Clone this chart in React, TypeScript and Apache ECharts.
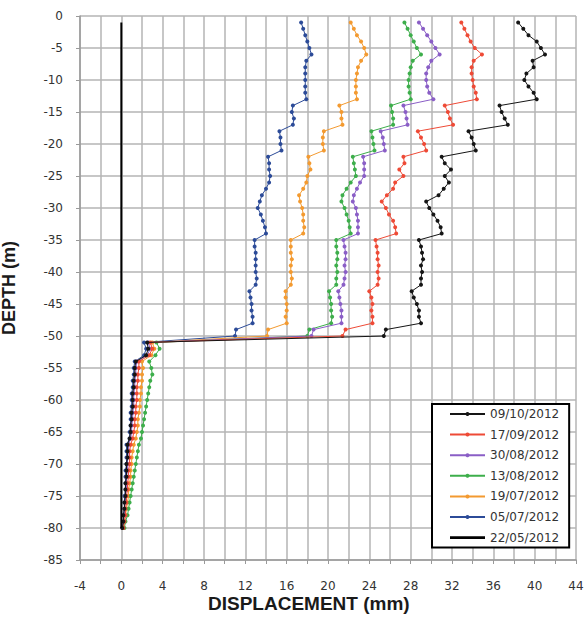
import React, { useEffect, useRef } from "react";
import * as echarts from "echarts";

const depths = [
  -1, -2, -3, -4, -5, -6, -7, -8, -9, -10,
  -11, -12, -13, -14, -15, -16, -17, -18, -19, -20,
  -21, -22, -23, -24, -25, -26, -27, -28, -29, -30,
  -31, -32, -33, -34, -35, -36, -37, -38, -39, -40,
  -41, -42, -43, -44, -45, -46, -47, -48, -49, -50,
  -51, -52, -53, -54, -55, -56, -57, -58, -59, -60,
  -61, -62, -63, -64, -65, -66, -67, -68, -69, -70,
  -71, -72, -73, -74, -75, -76, -77, -78, -79, -80,
];

const s091012 = [
  38.4, 38.9, 39.4, 40.2, 40.6, 41.0, 39.8, 39.9, 39.2, 39.0,
  39.4, 39.9, 40.2, 36.6, 36.8, 37.1, 37.4, 33.6, 33.9, 34.1,
  34.3, 31.0, 31.3, 31.9, 31.3, 31.7, 31.2, 30.7, 29.5, 29.8,
  30.2, 30.6, 30.9, 31.0, 28.8, 29.0, 29.1, 29.2, 29.0, 29.1,
  29.0, 29.0, 28.1, 28.3, 28.6, 28.8, 28.8, 29.0, 25.6, 25.4,
  2.5, 2.6, 2.4, 1.4, 1.3, 1.3, 1.2, 1.2, 1.1, 1.1,
  1.1, 1.0, 1.0, 0.9, 0.9, 0.8, 0.6, 0.6, 0.6, 0.5,
  0.5, 0.5, 0.4, 0.4, 0.4, 0.3, 0.3, 0.2, 0.2, 0.1,
];

const s170912 = [
  32.9, 33.2, 33.5, 33.8, 34.2, 34.9, 34.1, 33.9, 33.9, 34.0,
  34.1, 34.3, 34.4, 31.3, 31.6, 31.8, 32.1, 28.7, 29.0, 29.3,
  29.5, 27.3, 27.4, 26.9, 27.3, 26.5, 26.3, 25.7, 25.2, 25.6,
  25.9, 26.3, 26.5, 26.6, 24.6, 24.7, 24.8, 24.8, 24.9, 24.8,
  24.9, 24.8, 24.0, 24.2, 24.3, 24.2, 24.3, 24.3, 21.7, 21.4,
  2.8, 3.0, 2.7, 1.7, 1.7, 1.6, 1.6, 1.5, 1.5, 1.5,
  1.4, 1.4, 1.3, 1.3, 1.2, 1.1, 0.9, 0.8, 0.8, 0.8,
  0.7, 0.7, 0.6, 0.6, 0.5, 0.5, 0.4, 0.4, 0.3, 0.2,
];

const s300812 = [
  28.8, 29.2, 29.6, 30.0, 30.4, 30.8, 30.0, 29.7, 29.5, 29.5,
  29.6, 29.8, 30.2, 27.3, 27.5, 27.6, 27.7, 25.1, 25.3, 25.4,
  25.5, 23.4, 23.5, 23.5, 23.5, 23.1, 22.8, 22.5, 22.4, 22.7,
  22.8, 22.9, 22.9, 22.9, 21.5, 21.6, 21.7, 21.7, 21.6, 21.7,
  21.6, 21.5, 21.0, 21.1, 21.2, 21.3, 21.3, 21.3, 18.6, 18.4,
  2.6, 2.8, 2.5, 1.5, 1.4, 1.4, 1.3, 1.3, 1.2, 1.2,
  1.2, 1.1, 1.1, 1.0, 1.0, 0.9, 0.7, 0.7, 0.6, 0.6,
  0.6, 0.5, 0.5, 0.5, 0.4, 0.4, 0.3, 0.3, 0.2, 0.1,
];

const s130812 = [
  27.4, 27.7, 28.0, 28.3, 28.6, 29.0, 28.2, 28.0, 27.9, 27.8,
  27.8, 27.9, 28.0, 26.1, 26.2, 26.3, 26.3, 24.2, 24.3, 24.4,
  24.5, 22.4, 22.5, 22.6, 22.7, 22.2, 21.8, 21.4, 21.3, 21.6,
  21.8, 22.0, 22.1, 22.2, 20.8, 20.8, 20.9, 20.9, 20.8, 20.9,
  20.8, 20.8, 20.1, 20.2, 20.3, 20.3, 20.4, 20.3, 18.2, 18.0,
  3.4, 3.7, 3.3, 2.7, 2.9, 3.0, 2.8, 2.7, 2.6, 2.5,
  2.4, 2.3, 2.2, 2.1, 2.0, 1.9, 1.7, 1.6, 1.5, 1.4,
  1.3, 1.2, 1.1, 1.0, 0.9, 0.8, 0.7, 0.6, 0.4, 0.3,
];

const s190712 = [
  22.2, 22.5, 22.8, 23.2, 23.5, 23.7, 23.2, 22.9, 22.8, 22.7,
  22.7, 22.7, 22.8, 21.1, 21.3, 21.3, 21.4, 19.6, 19.5, 19.5,
  19.6, 18.1, 18.2, 18.3, 18.0, 17.9, 17.6, 17.2, 17.3, 17.5,
  17.6, 17.6, 17.7, 17.6, 16.4, 16.4, 16.4, 16.5, 16.4, 16.4,
  16.5, 16.4, 15.9, 15.9, 16.0, 16.0, 15.9, 16.0, 14.2, 14.1,
  3.0, 3.2, 2.9, 2.0, 2.1, 2.0, 2.0, 1.9, 1.9, 1.8,
  1.8, 1.7, 1.6, 1.6, 1.5, 1.4, 1.2, 1.1, 1.0, 1.0,
  0.9, 0.9, 0.8, 0.7, 0.7, 0.6, 0.5, 0.4, 0.3, 0.2,
];

const s050712 = [
  17.4, 17.6, 17.8, 18.0, 18.2, 18.4, 17.9, 17.8, 17.8, 17.8,
  17.8, 17.8, 17.9, 16.6, 16.5, 16.7, 16.6, 15.3, 15.4, 15.4,
  15.5, 14.2, 14.3, 14.3, 14.4, 14.3, 14.0, 13.6, 13.4, 13.2,
  13.5, 13.7, 13.9, 14.0, 12.9, 12.9, 13.0, 13.0, 13.0, 13.0,
  13.1, 13.0, 12.4, 12.5, 12.6, 12.6, 12.7, 12.7, 11.1, 11.0,
  2.2, 2.4, 2.2, 1.3, 1.2, 1.2, 1.1, 1.1, 1.0, 1.0,
  1.0, 0.9, 0.9, 0.9, 0.8, 0.8, 0.5, 0.5, 0.5, 0.5,
  0.4, 0.4, 0.4, 0.4, 0.3, 0.3, 0.3, 0.2, 0.2, 0.1,
];

// base reading (22/05/2012): zero displacement from -1 m to -80 m
const baseDepths = [-1, -80];
const s220512 = [0, 0];

const seriesNames = [
  "09/10/2012",
  "17/09/2012",
  "30/08/2012",
  "13/08/2012",
  "19/07/2012",
  "05/07/2012",
  "22/05/2012",
];
const seriesValues = [s091012, s170912, s300812, s130812, s190712, s050712];
const seriesColors = ["#151515", "#ee4a36", "#8a5ec6", "#3dae4b", "#f39a30", "#2c4b98"];

const xTicks = { min: -4, max: 44, interval: 4 };
const yTicks = { min: -85, max: 0, interval: 5 };

const gridColor = "#b5b5b5";
const tickFont = "DejaVu Sans";

export default function App() {
  const ref = useRef<HTMLDivElement>(null);

  useEffect(() => {
    if (!ref.current) return;
    const chart = echarts.init(ref.current, null, { renderer: "svg" });

    const lineSeries: any[] = seriesValues.map((vals, i) => ({
      name: seriesNames[i],
      type: "line",
      data: vals.map((v, j) => [v, depths[j]]),
      symbol: "circle",
      symbolSize: 4,
      showSymbol: true,
      color: seriesColors[i],
      itemStyle: { color: seriesColors[i] },
      lineStyle: { color: seriesColors[i], width: 1 },
      z: 10 - i,
    }));

    lineSeries.push({
      name: seriesNames[6],
      type: "line",
      data: s220512.map((v, j) => [v, baseDepths[j]]),
      symbol: "none",
      color: "#000000",
      itemStyle: { color: "#000000" },
      lineStyle: { color: "#000000", width: 2 },
      z: 11,
    });

    const legendData: any[] = seriesNames.map((n, i) =>
      i === 6
        ? {
            name: n,
            icon: "path://M0,0L0.1,0L0.1,0.01Z M0,1.2H35V3.8H0Z M0,5L0.1,5L0.1,4.99Z",
          }
        : { name: n }
    );

    chart.setOption({
      animation: false,
      backgroundColor: "#ffffff",
      grid: {
        left: 80,
        right: 11,
        top: 16,
        bottom: 60,
        containLabel: false,
        outerBoundsMode: "none",
      },
      xAxis: {
        type: "value",
        min: xTicks.min,
        max: xTicks.max,
        interval: xTicks.interval,
        axisLine: { show: true, onZero: false, lineStyle: { color: "#9a9a9a", width: 1.5 } },
        axisTick: { show: true, length: 4, lineStyle: { color: "#9a9a9a" } },
        minorTick: { show: true, splitNumber: 2, length: 4, lineStyle: { color: "#9a9a9a" } },
        splitLine: { show: true, lineStyle: { color: gridColor, width: 1.5 } },
        minorSplitLine: { show: true, lineStyle: { color: gridColor, width: 1.5 } },
        axisLabel: { color: "#333333", fontSize: 12, fontFamily: tickFont, margin: 20 },
      },
      yAxis: {
        type: "value",
        min: yTicks.min,
        max: yTicks.max,
        interval: yTicks.interval,
        name: "DEPTH (m)",
        nameLocation: "middle",
        nameGap: 62,
        nameTextStyle: {
          color: "#1a1a1a",
          fontSize: 18,
          fontWeight: "bold",
          fontFamily: "Liberation Sans",
        },
        axisLine: { show: true, onZero: false, lineStyle: { color: "#9a9a9a", width: 1.5 } },
        axisTick: { show: true, length: 4, lineStyle: { color: "#9a9a9a" } },
        splitLine: { show: true, lineStyle: { color: gridColor, width: 1.5 } },
        axisLabel: { color: "#333333", fontSize: 12, fontFamily: tickFont, margin: 17 },
      },
      legend: {
        data: legendData,
        orient: "vertical",
        left: 432,
        top: 404,
        itemWidth: 35,
        itemHeight: 5,
        itemGap: 8.6,
        padding: [4, 10, 4, 17],
        borderColor: "#000000",
        borderWidth: 2,
        backgroundColor: "#ffffff",
        textStyle: { color: "#333333", fontSize: 12, fontFamily: tickFont },
      },
      graphic: [
        {
          type: "text",
          left: 208,
          top: 594,
          style: {
            text: "DISPLACEMENT (mm)",
            fill: "#1a1a1a",
            fontSize: 19,
            fontWeight: "bold",
            fontFamily: "Liberation Sans",
          },
        },
      ],
      series: lineSeries,
    });

    return () => chart.dispose();
  }, []);

  return (
    <div
      ref={ref}
      style={{ position: "absolute", left: 0, top: 0, width: 587, height: 620 }}
    />
  );
}
